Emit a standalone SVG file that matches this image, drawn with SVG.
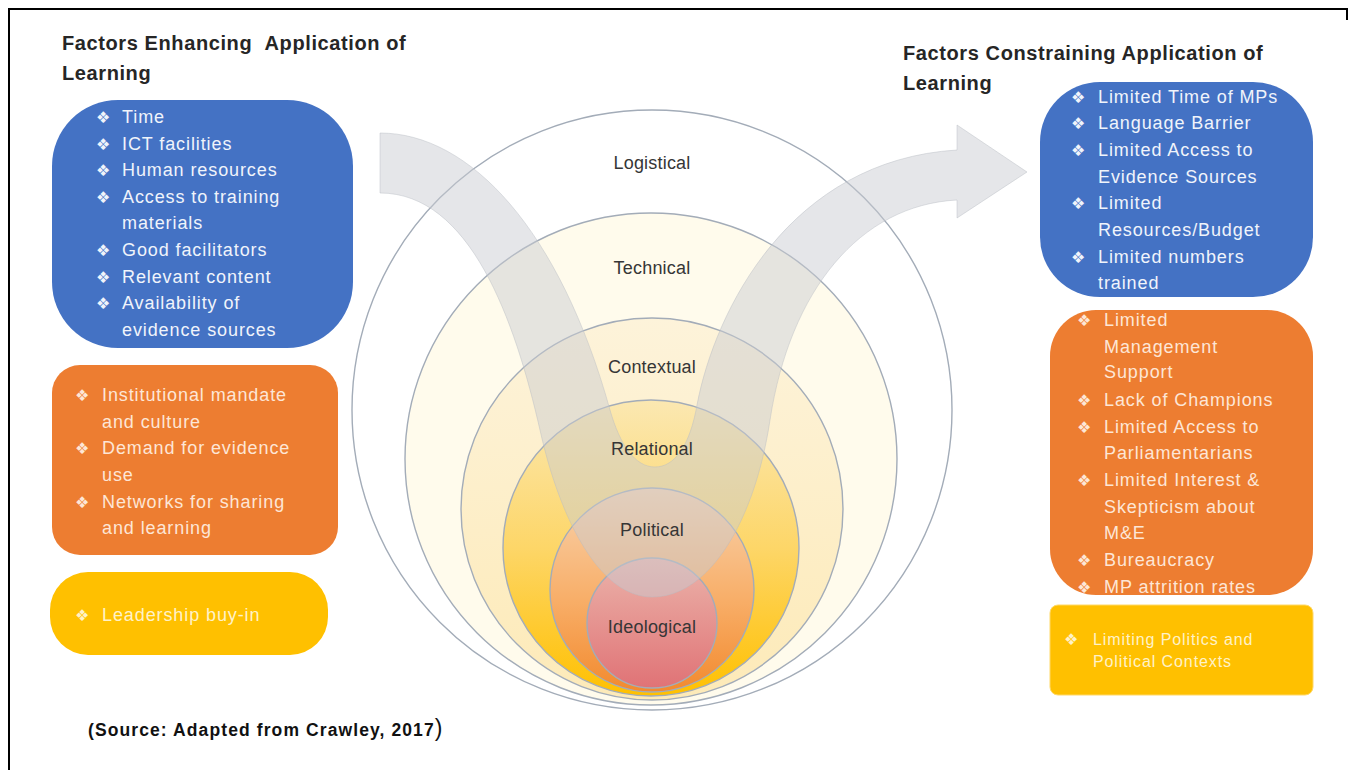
<svg xmlns="http://www.w3.org/2000/svg" width="1352" height="770" viewBox="0 0 1352 770">
  <defs>
    <style>
      .heading { font-family: "Liberation Sans", Arial, sans-serif; font-weight: bold; font-size: 20px; letter-spacing: 0.6px; fill: #262626; }
      .item { font-family: "Liberation Sans", Arial, sans-serif; font-size: 18px; letter-spacing: 0.9px; }
      .small { font-family: "Liberation Sans", Arial, sans-serif; font-size: 16px; letter-spacing: 0.9px; }
      .bul { font-family: "DejaVu Sans", sans-serif; font-size: 16px; }
      .on-blue { fill: #f0f4fb; }
      .on-orange { fill: #fde6d6; }
      .on-yellow { fill: #fff2c8; }
      .ring { stroke: #a3acb8; stroke-width: 1.4; }
      .ring-label { font-family: "Liberation Sans", Arial, sans-serif; font-size: 18px; letter-spacing: 0.2px; fill: #363636; text-anchor: middle; }
      .source { font-family: "Liberation Sans", Arial, sans-serif; font-weight: bold; font-size: 17.5px; letter-spacing: 1.1px; fill: #111; }
    </style>
    <linearGradient id="gContextual" x1="0" y1="0" x2="0" y2="1">
      <stop offset="0" stop-color="#fdf3da"/>
      <stop offset="1" stop-color="#fdeab8"/>
    </linearGradient>
    <linearGradient id="gRelational" x1="0" y1="0" x2="0" y2="1">
      <stop offset="0" stop-color="#fbe8b2"/>
      <stop offset="0.5" stop-color="#fdd668"/>
      <stop offset="1" stop-color="#ffc000"/>
    </linearGradient>
    <linearGradient id="gPolitical" x1="0" y1="0" x2="0" y2="1">
      <stop offset="0" stop-color="#f8d3ae"/>
      <stop offset="0.55" stop-color="#f8ae68"/>
      <stop offset="1" stop-color="#f28a2e"/>
    </linearGradient>
    <linearGradient id="gIdeological" x1="0" y1="0" x2="0" y2="1">
      <stop offset="0" stop-color="#ebb3aa"/>
      <stop offset="1" stop-color="#e07376"/>
    </linearGradient>
  </defs>

  <rect width="1352" height="770" fill="#ffffff"/>

  <!-- page frame -->
  <g id="frame" fill="none" stroke="#000" stroke-width="2">
    <path d="M9 770 V9 H1347 V20"/>
  </g>

  <!-- headings -->
  <g id="heading-left">
    <text class="heading" x="62" y="50">Factors Enhancing &#160;Application of</text>
    <text class="heading" x="62" y="80">Learning</text>
  </g>
  <g id="heading-right">
    <text class="heading" x="903" y="60">Factors Constraining Application of</text>
    <text class="heading" x="903" y="90">Learning</text>
  </g>

  <!-- nested levels -->
  <g id="rings">
    <g id="ring-logistical"><circle class="ring" cx="652" cy="410" r="300" fill="#ffffff" stroke="#9fb1c9"/></g>
    <g id="ring-technical"><circle class="ring" cx="651" cy="459" r="246" fill="#fffbec"/></g>
    <g id="ring-contextual"><circle class="ring" cx="652" cy="509" r="191" fill="url(#gContextual)"/></g>
    <g id="ring-relational"><circle class="ring" cx="651" cy="548" r="148" fill="url(#gRelational)"/></g>
    <g id="ring-political"><circle class="ring" cx="652" cy="590" r="102" fill="url(#gPolitical)"/></g>
    <g id="ring-ideological"><circle class="ring" cx="652" cy="623" r="65" fill="url(#gIdeological)"/></g>
  </g>

  <!-- U-turn arrow through the levels -->
  <g id="connectors">
    <path d="M380 133 C470 133 560 230 610 410 C620 445 635 467 655 467 C675 467 690 445 697 405 C715 310 790 160 957 150 L957 125 L1027 172 L957 218 L957 200 C860 205 790 290 770 420 C755 520 710 597 652 597 C600 597 560 520 540 430 C515 320 470 193 380 193 Z" fill="#c8cbd1" fill-opacity="0.48" stroke="#b8bcc4" stroke-opacity="0.45" stroke-width="1"/>
  </g>

  <g id="ring-labels">
    <text class="ring-label" x="652" y="169">Logistical</text>
    <text class="ring-label" x="652" y="274">Technical</text>
    <text class="ring-label" x="652" y="373">Contextual</text>
    <text class="ring-label" x="652" y="455">Relational</text>
    <text class="ring-label" x="652" y="536">Political</text>
    <text class="ring-label" x="652" y="633">Ideological</text>
  </g>

  <!-- enhancing factors -->
  <g id="enh-resources">
    <rect x="52" y="100" width="301" height="248" rx="66" fill="#4472c4"/>
    <g class="on-blue">
      <text class="bul" x="96" y="123">❖</text><text class="item" x="122" y="123">Time</text>
      <text class="bul" x="96" y="150">❖</text><text class="item" x="122" y="150">ICT facilities</text>
      <text class="bul" x="96" y="176">❖</text><text class="item" x="122" y="176">Human resources</text>
      <text class="bul" x="96" y="203">❖</text><text class="item" x="122" y="203">Access to training</text>
      <text class="item" x="122" y="229">materials</text>
      <text class="bul" x="96" y="256">❖</text><text class="item" x="122" y="256">Good facilitators</text>
      <text class="bul" x="96" y="283">❖</text><text class="item" x="122" y="283">Relevant content</text>
      <text class="bul" x="96" y="309">❖</text><text class="item" x="122" y="309">Availability of</text>
      <text class="item" x="122" y="336">evidence sources</text>
    </g>
  </g>

  <g id="enh-institutional">
    <rect x="52" y="365" width="286" height="190" rx="28" fill="#ed7d31"/>
    <g class="on-orange">
      <text class="bul" x="75" y="401">❖</text><text class="item" x="102" y="401">Institutional mandate</text>
      <text class="item" x="102" y="428">and culture</text>
      <text class="bul" x="75" y="454">❖</text><text class="item" x="102" y="454">Demand for evidence</text>
      <text class="item" x="102" y="481">use</text>
      <text class="bul" x="75" y="508">❖</text><text class="item" x="102" y="508">Networks for sharing</text>
      <text class="item" x="102" y="534">and learning</text>
    </g>
  </g>

  <g id="enh-leadership">
    <rect x="50" y="572" width="278" height="83" rx="38" fill="#ffc000"/>
    <g class="on-yellow">
      <text class="bul" x="75" y="621">❖</text><text class="item" x="102" y="621">Leadership buy-in</text>
    </g>
  </g>

  <!-- constraining factors -->
  <g id="con-resources">
    <rect x="1040" y="82" width="273" height="215" rx="60" fill="#4472c4"/>
    <g class="on-blue">
      <text class="bul" x="1071" y="103">❖</text><text class="item" x="1098" y="103">Limited Time of MPs</text>
      <text class="bul" x="1071" y="129">❖</text><text class="item" x="1098" y="129">Language Barrier</text>
      <text class="bul" x="1071" y="156">❖</text><text class="item" x="1098" y="156">Limited Access to</text>
      <text class="item" x="1098" y="183">Evidence Sources</text>
      <text class="bul" x="1071" y="209">❖</text><text class="item" x="1098" y="209">Limited</text>
      <text class="item" x="1098" y="236">Resources/Budget</text>
      <text class="bul" x="1071" y="263">❖</text><text class="item" x="1098" y="263">Limited numbers</text>
      <text class="item" x="1098" y="289">trained</text>
    </g>
  </g>

  <g id="con-institutional">
    <rect x="1050" y="310" width="263" height="285" rx="46" fill="#ed7d31"/>
    <g class="on-orange">
      <text class="bul" x="1077" y="326">❖</text><text class="item" x="1104" y="326">Limited</text>
      <text class="item" x="1104" y="353">Management</text>
      <text class="item" x="1104" y="378">Support</text>
      <text class="bul" x="1077" y="406">❖</text><text class="item" x="1104" y="406">Lack of Champions</text>
      <text class="bul" x="1077" y="433">❖</text><text class="item" x="1104" y="433">Limited Access to</text>
      <text class="item" x="1104" y="459">Parliamentarians</text>
      <text class="bul" x="1077" y="486">❖</text><text class="item" x="1104" y="486">Limited Interest &amp;</text>
      <text class="item" x="1104" y="513">Skepticism about</text>
      <text class="item" x="1104" y="539">M&amp;E</text>
      <text class="bul" x="1077" y="566">❖</text><text class="item" x="1104" y="566">Bureaucracy</text>
      <text class="bul" x="1077" y="593">❖</text><text class="item" x="1104" y="593">MP attrition rates</text>
    </g>
  </g>

  <g id="con-politics">
    <rect x="1050" y="605" width="263" height="90" rx="8" fill="#ffc000" stroke="#ffd866" stroke-width="1"/>
    <g class="on-yellow">
      <text class="bul" x="1064" y="645">❖</text><text class="small" x="1093" y="645">Limiting Politics and</text>
      <text class="small" x="1093" y="667">Political Contexts</text>
    </g>
  </g>

  <g id="source-note">
    <text class="source" x="88" y="736">(Source: Adapted from Crawley, 2017<tspan font-size="23" font-weight="normal">)</tspan></text>
  </g>
</svg>
